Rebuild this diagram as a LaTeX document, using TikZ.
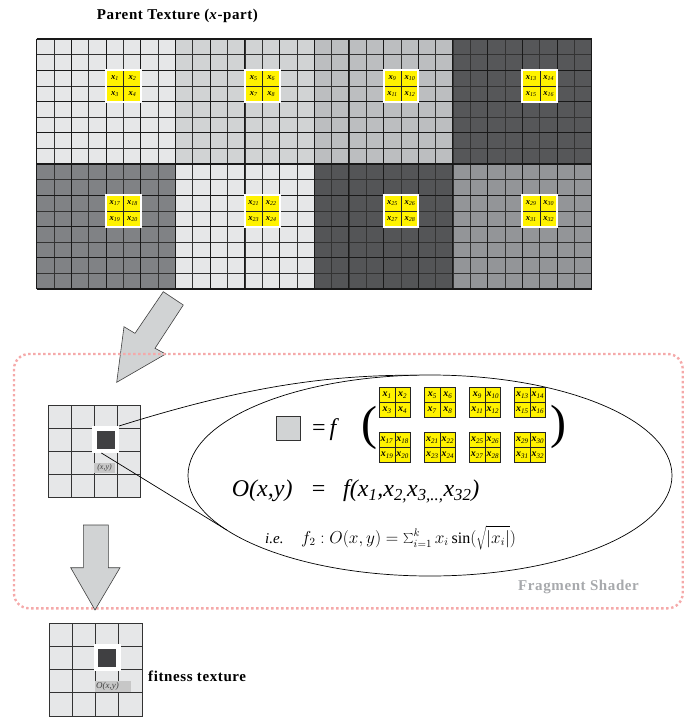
\documentclass[tikz,border=0pt]{standalone}
\usepackage{fontspec}
\setmainfont{Liberation Serif}
\newfontfamily\headfont[LetterSpace=4]{Liberation Serif}
\usetikzlibrary{shapes.geometric}
\definecolor{texA}{HTML}{E6E7E8}
\definecolor{texB}{HTML}{D1D3D4}
\definecolor{texC}{HTML}{BCBEC0}
\definecolor{texD}{HTML}{565759}
\definecolor{texE}{HTML}{808285}
\definecolor{texG}{HTML}{545557}
\definecolor{texH}{HTML}{939598}
\definecolor{xyellow}{HTML}{FFF200}
\definecolor{darkpix}{HTML}{404042}
\definecolor{shadergray}{HTML}{A7A9AC}
\definecolor{pinkdot}{HTML}{F5A9A9}
\newcommand{\xv}[1]{\textbf{\textit{x}}\textsubscript{\textit{#1}}}

\begin{document}
\begin{tikzpicture}[x=1pt, y=-1pt,
    grid thin/.style={draw=black!80, line width=0.6pt},
    grid thick/.style={draw=black!90, line width=1.05pt},
    xcell/.style={draw=black!85, fill=xyellow, line width=0.6pt, inner sep=0pt, anchor=north west},
    small xcell/.style={xcell, minimum width=17.34pt, minimum height=15.63pt, font=\fontsize{8.5}{8.5}\selectfont},
    big xcell/.style={xcell, minimum width=15.5pt, minimum height=15pt, font=\fontsize{10}{10}\selectfont},
    pixel/.style={draw=black!80, fill=texA, line width=0.8pt, inner sep=0pt},
    blockarrow/.style={draw=black!75, fill=texB, line width=0.6pt, line join=miter},
    pixlabel/.style={fill=black!22, inner sep=0pt, text=black!75, font=\fontsize{8}{8}\selectfont\itshape},
    formula/.style={anchor=base west, inner sep=0pt, font=\fontsize{24}{24}\selectfont\itshape},
    headline/.style={inner sep=0pt, font=\fontsize{15}{15}\selectfont\headfont\bfseries}]

\useasboundingbox (0,0) rectangle (692,717);

\node[headline, anchor=base west] (title) at (96.7,20) {Parent Texture (\textit{x}-part)};

\foreach \bx/\by/\col in {0/0/texA,1/0/texB,2/0/texC,3/0/texD,0/1/texE,1/1/texA,2/1/texG,3/1/texH}
  \fill[\col] ({36.7+\bx*138.75},{39+\by*125}) rectangle ++(138.75,125);
\foreach \k in {0,...,32}
  \draw[grid thin] ({36.7+\k*17.344},39) -- ++(0,250);
\foreach \k in {0,...,16}
  \draw[grid thin] (36.7,{39+\k*15.625}) -- ++(555,0);
\foreach \k in {0,2,...,32}
  \draw[grid thick] ({36.7+\k*17.344},39) -- ++(0,250);
\foreach \k in {0,2,...,16}
  \draw[grid thick] (36.7,{39+\k*15.625}) -- ++(555,0);

\foreach \bx/\by [count=\blk from 0] in {0/0,1/0,2/0,3/0,0/1,1/1,2/1,3/1}{
  \foreach \j/\dx/\dy in {1/0/0,2/1/0,3/0/1,4/1/1}{
    \pgfmathtruncatemacro\idx{4*\blk+\j}
    \node[small xcell] (t\idx) at ({106.08+\bx*138.75+\dx*17.344},{70.25+\by*125+\dy*15.625}) {\xv{\idx}};
  }
  \draw[white, line width=2pt] ({106.08+\bx*138.75},{70.25+\by*125}) rectangle ++(34.69,31.25);
}

\draw[blockarrow] (163.3,291.7) -- (183.3,305) -- (155,348.3) -- (165.7,354) -- (116.7,382.3) -- (124,326.7) -- (135,333.3) -- cycle;

\draw[pinkdot, line width=2.4pt, dash pattern=on 2.4pt off 2.6pt, rounded corners=15pt] (14,354) rectangle (682.7,608.3);

\foreach \r in {0,...,3}
  \foreach \c in {0,...,3}
    \node[pixel, minimum size=23pt] (p\r\c) at ({59.5+23*\c},{416.5+23*\r}) {};
\node[fill=white, minimum size=26.6pt, inner sep=0pt] (hl) at (p12) {};
\node[fill=darkpix, minimum size=18pt, inner sep=0pt] (px) at (hl) {};
\node[pixlabel, minimum width=21pt, minimum height=10pt] (xylab) at (104.5,468) {(x,y)};

\node[draw, ellipse, minimum width=484pt, minimum height=201pt, inner sep=0pt, outer sep=0pt, line width=0.7pt] (lens) at (430,475.5) {};
\draw[line width=0.7pt] (hl.north east) .. controls (250,385) and (330,375) .. (lens.96);
\draw[line width=0.7pt] (hl.253) -- (lens.195.9);

\node[draw=black!80, fill=texB, minimum size=23.3pt, inner sep=0pt, line width=0.8pt] (sq) at (288.3,428.3) {};
\node[anchor=west, inner sep=0pt, font=\fontsize{24}{24}\selectfont] (eqf) at (312,430) {=\,\textit{f}};
\node[inner sep=0pt, font=\fontsize{48}{48}\selectfont] (lpar) at (369,428) {(};
\node[inner sep=0pt, font=\fontsize{48}{48}\selectfont] (rpar) at (558,427) {)};
\foreach \gx/\gy [count=\grp from 0] in {379/387.3,424.3/387.3,469.3/387.3,514.3/387.3,379/432.3,424.3/432.3,469.3/432.3,514.3/432.3}{
  \foreach \j/\dx/\dy in {1/0/0,2/1/0,3/0/1,4/1/1}{
    \pgfmathtruncatemacro\idx{4*\grp+\j}
    \node[big xcell] (f\idx) at ({\gx+\dx*15.5},{\gy+\dy*15}) {\xv{\idx}};
  }
}

\node[formula] (oxy) at (231.7,496.7) {O(x,y)};
\node[formula, font=\fontsize{24}{24}\selectfont] (eqsign) at (311.7,496.7) {=};
\node[formula] (fargs) at (343,496.7) {f(x\textsubscript{1},x\textsubscript{2,}x\textsubscript{3,..,}x\textsubscript{32})};
\node[anchor=base west, inner sep=0pt, font=\fontsize{15}{15}\selectfont] (ie) at (265,543) {\textit{i.e.}};
\node[anchor=base west, inner sep=0pt, font=\fontsize{16}{16}\selectfont] (f2) at (301,543) {$f_2 : O(x,y) = \sum_{i=1}^{k} x_i \sin(\sqrt{|x_i|})$};

\node[headline, anchor=base west, text=shadergray] (shader) at (518,590) {Fragment Shader};

\draw[blockarrow] (83.3,525) -- (108.3,525) -- (108.3,567.7) -- (120,567.7) -- (95,610) -- (70.7,567.7) -- (83.3,567.7) -- cycle;

\foreach \r in {0,...,3}
  \foreach \c in {0,...,3}
    \node[pixel, minimum size=23.25pt] (q\r\c) at ({60.6+23.25*\c},{634.6+23.25*\r}) {};
\node[fill=white, minimum size=27pt, inner sep=0pt] (hlout) at (q12) {};
\node[fill=darkpix, minimum size=18pt, inner sep=0pt] (pxout) at (hlout) {};
\node[pixlabel, anchor=west, minimum width=36pt, minimum height=11.6pt, align=left, font=\fontsize{9}{9}\selectfont\itshape] (oxylab) at (94.3,686.5) {O(x,y)\hspace{10pt}};

\node[headline, anchor=base west] (fitlabel) at (148,681.7) {fitness texture};
\end{tikzpicture}
\end{document}
